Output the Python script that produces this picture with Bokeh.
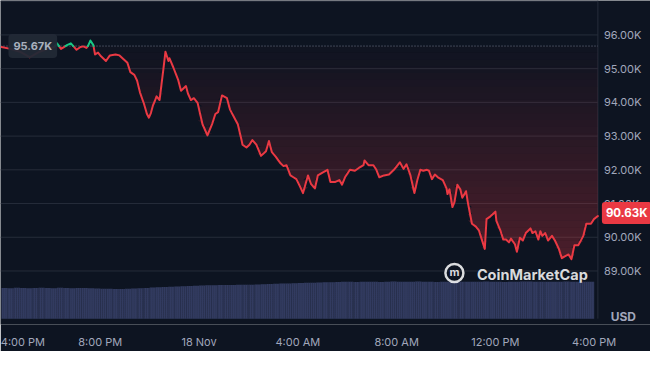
import numpy as np
from bokeh.plotting import figure
from bokeh.models import Range1d, FixedTicker, Label
from bokeh.core.properties import value
from bokeh.embed import file_html
from bokeh.resources import INLINE

# ---- data (hours after 4:00 PM, 17 Nov; BTC price in USD) ----
hours = [0.00,0.36,0.75,1.15,1.54,1.86,2.13,2.25,2.41,2.53,
         2.65,2.81,2.92,3.04,3.20,3.32,3.44,3.52,3.60,3.72,
         3.79,3.91,4.03,4.23,4.39,4.62,4.78,4.90,5.10,5.22,
         5.38,5.49,5.61,5.77,5.89,5.97,6.05,6.13,6.21,6.28,
         6.40,6.56,6.64,6.76,6.80,6.96,7.15,7.27,7.47,7.55,
         7.67,7.79,7.94,8.14,8.34,8.54,8.66,8.77,8.93,9.13,
         9.25,9.45,9.57,9.72,9.76,9.92,10.04,10.16,10.32,10.51,
         10.71,10.83,10.95,11.11,11.30,11.42,11.54,11.70,11.82,11.94,
         12.09,12.21,12.41,12.53,12.69,12.81,13.00,13.20,13.32,13.52,
         13.68,13.79,13.91,14.11,14.31,14.47,14.66,14.70,14.86,15.06,
         15.18,15.30,15.49,15.69,15.89,16.13,16.28,16.40,16.56,16.72,
         16.84,16.96,17.08,17.23,17.31,17.43,17.55,17.67,17.87,18.02,
         18.06,18.14,18.26,18.34,18.46,18.58,18.66,18.81,18.89,19.05,
         19.21,19.33,19.45,19.57,19.64,19.80,20.00,20.04,20.20,20.32,
         20.43,20.55,20.63,20.79,20.87,20.99,21.11,21.23,21.42,21.50,
         21.62,21.74,21.82,21.90,22.02,22.13,22.29,22.41,22.57,22.69,
         22.81,22.96,23.08,23.20,23.36,23.56,23.68,23.87,23.99,24.15]

prices = [95641,95586,95503,95338,95503,95586,95641,95752,95586,95641,
          95697,95752,95660,95559,95641,95660,95614,95697,95834,95697,
          95421,95476,95366,95228,95393,95421,95393,95310,95172,94897,
          94814,94648,94290,93959,93655,93545,93683,93903,94041,94179,
          94069,95007,95503,95228,95310,95034,94676,94345,94483,94262,
          94069,94124,93986,93352,93021,93379,93655,93710,94207,94124,
          93793,93517,93352,92883,92745,92662,92745,92883,92745,92414,
          92552,92855,92524,92386,92193,92110,92138,91834,91779,91724,
          91503,91310,91834,91586,91448,91834,91917,92000,91641,91641,
          91697,91559,91779,92000,91972,92055,92138,92276,92138,92138,
          92000,91779,91834,91862,92000,92221,92028,92166,91834,91310,
          91697,92000,91972,92000,91972,91724,91862,91779,91697,91448,
          91283,91421,90897,91035,91559,91421,91172,91366,91007,90400,
          90317,90207,89931,89655,90538,90621,90759,90483,90207,89931,
          89931,89848,89959,89793,89572,89986,89903,90124,90262,90124,
          90179,89931,90179,90041,90124,89903,90041,89903,89655,89379,
          89434,89490,89352,89766,89766,90041,90400,90400,90538,90630]

# 24h rolling volume (billion USD), one value per 15-minute bar
volume_b = [69.2,68.8,69.5,69.0,68.6,69.3,69.8,69.1,68.7,69.4,69.0,68.5,68.9,69.2,68.4,67.9,
            67.5,67.2,66.8,67.0,67.4,67.9,68.5,69.3,
            70.0,70.8,71.5,72.0,72.6,73.1,73.8,74.4,
            74.8,75.0,75.3,75.9,75.6,76.0,76.4,76.2,76.6,77.1,
            77.6,78.0,78.5,79.0,79.4,79.8,80.3,80.7,81.0,81.4,81.8,
            82.2,82.6,82.9,83.1,82.8,83.2,83.4,83.0,82.7,83.3,83.5,83.1,82.9,83.2,83.6,
            83.4,83.0,82.8,83.1,83.3,83.5,83.2,82.9,83.0,83.4,83.6,83.3,83.1,82.8,83.0,
            83.2,83.5,83.7,83.4,83.1,82.9,83.2,83.4,83.6,83.3,83.0,83.2,83.4]
bar_start_h = 0.0
bar_step_h = 0.25

open_price = 95670
last_price = 90630
open_label = "95.67K"
last_label = "90.63K"

y_ticks = [89000, 90000, 91000, 92000, 93000, 94000, 95000, 96000]
y_tick_labels = ["89.00K", "90.00K", "91.00K", "92.00K", "93.00K", "94.00K", "95.00K", "96.00K"]
grid_levels = [89000, 90000, 91000, 92000, 93000, 94000, 95000, 96000, 97000]
x_ticks = [0.87, 4, 8, 12, 16, 20, 24]   # first label is nudged right to fit, as in the original
x_tick_labels = ["4:00 PM", "8:00 PM", "18 Nov", "4:00 AM", "8:00 AM", "12:00 PM", "4:00 PM"]
currency = "USD"
brand = "CoinMarketCap"

# ---- style ----
BG = "#0d1421"
RED = "#ea3943"
GREEN = "#16c784"
GRID = "#262d3a"
LABEL = "#a1a7bb"
FONT = "Inter"

n = min(len(hours), len(prices))
hx = np.array(hours[:n], dtype=float)
py = np.array(prices[:n], dtype=float)

X0, X1 = -0.0395, 26.28          # full canvas width; data ends at hours[-1]
Y0, Y1 = 87413, 97021
PLOT_BOTTOM = 87586              # bottom of the price/volume panel
X_END = hx[-1]

p = figure(width=650, height=351, x_range=Range1d(X0, X1), y_range=Range1d(Y0, Y1),
           y_axis_location=None, toolbar_location=None, output_backend="svg",
           background_fill_color=BG, border_fill_color=BG, outline_line_color=None,
           min_border_left=0, min_border_top=0, min_border_right=0, min_border_bottom=18)

p.extra_y_ranges = {"vol": Range1d(-13.15, 716.8)}

p.xgrid.grid_line_color = None
p.ygrid.grid_line_color = None

p.xaxis.ticker = FixedTicker(ticks=x_ticks)
p.xaxis.major_label_overrides = {t: l for t, l in zip(x_ticks, x_tick_labels)}
p.xaxis.major_tick_line_color = None
p.xaxis.minor_tick_line_color = None
p.xaxis.axis_line_color = None
p.xaxis.major_label_text_color = LABEL
p.xaxis.major_label_text_font = FONT
p.xaxis.major_label_text_font_size = "11px"
p.xaxis.major_label_standoff = 4

# grid lines limited to the chart area, and the right border
p.segment(x0=[X0] * len(grid_levels), x1=[X_END] * len(grid_levels), y0=grid_levels, y1=grid_levels,
          line_color=GRID, line_width=1)
p.segment(x0=[X_END], x1=[X_END], y0=[PLOT_BOTTOM], y1=[Y1], line_color=GRID, line_width=1)

# volume bars
bar_x = bar_start_h + bar_step_h * (np.arange(len(volume_b)) + 0.5)
bar_x = np.minimum(bar_x, X_END - bar_step_h / 2)
p.vbar(x=bar_x, top=volume_b, bottom=0, width=bar_step_h, y_range_name="vol",
       fill_color="#323b60", line_color=None,
       hatch_pattern="vertical_line", hatch_color="#222942", hatch_scale=2.1, hatch_weight=0.8)

# gradient fill between the price line and the opening price
low_edge = 89300
edges = np.linspace(low_edge, open_price, 33)
nb = len(edges) - 1
for k in range(nb):
    a, b = edges[k], edges[k + 1]
    alpha = 0.28 * (1 - (k + 0.5) / nb) + 0.01
    p.varea(x=hx, y1=np.clip(py, a, b), y2=np.full(n, b), fill_color=RED, fill_alpha=alpha)

# opening price dotted line
p.line(x=[X0, X_END], y=[open_price, open_price], line_color="#8b93a6",
       line_alpha=0.8, line_width=1, line_dash="1 2")

# price line split above/below opening price
pieces = []
cur, cx, cy = None, [], []
for i in range(n - 1):
    x0, y0, x1, y1 = hx[i], py[i], hx[i + 1], py[i + 1]
    if (y0 - open_price) * (y1 - open_price) < 0:
        xc = x0 + (open_price - y0) * (x1 - x0) / (y1 - y0)
        parts = [((x0, y0), (xc, open_price)), ((xc, open_price), (x1, y1))]
    else:
        parts = [((x0, y0), (x1, y1))]
    for (pa, pb) in parts:
        col = "g" if (pa[1] + pb[1]) / 2 > open_price else "r"
        if col != cur:
            if cur is not None:
                pieces.append((cur, cx, cy))
            cur, cx, cy = col, [pa[0]], [pa[1]]
        cx.append(pb[0])
        cy.append(pb[1])
pieces.append((cur, cx, cy))

rx = [pc[1] for pc in pieces if pc[0] == "r"]
ry = [pc[2] for pc in pieces if pc[0] == "r"]
gx = [pc[1] for pc in pieces if pc[0] == "g"]
gy = [pc[2] for pc in pieces if pc[0] == "g"]
p.multi_line(xs=rx, ys=ry, line_color=RED, line_width=2, line_join="round", line_cap="round")
p.multi_line(xs=gx, ys=gy, line_color=GREEN, line_width=2, line_join="round", line_cap="round")

# price scale labels, right of the chart area
p.text(x=[X_END] * len(y_ticks), y=y_ticks, text=y_tick_labels, x_offset=6,
       text_align="left", text_baseline="middle", text_color=LABEL,
       text_font=value(FONT), text_font_size="11px")

# watermark
logo_h, logo_y = 18.34, 88938
p.scatter(x=[logo_h], y=[logo_y], size=18, marker="circle", fill_alpha=0,
          line_color="white", line_alpha=0.85, line_width=2.5)
p.add_layout(Label(x=logo_h, y=logo_y, text="m", text_align="center", text_baseline="middle",
                   text_color="white", text_alpha=0.85, text_font=FONT, text_font_style="bold",
                   text_font_size="11px", y_offset=1))
p.add_layout(Label(x=19.25, y=88883, text=brand, text_align="left", text_baseline="middle",
                   text_color="white", text_alpha=0.85, text_font=FONT, text_font_style="bold",
                   text_font_size="14.5px"))

# badges
p.add_layout(Label(x=0.08, y=open_price, text=open_label, text_align="left", text_baseline="middle",
                   text_color="#a9b0bd", text_font=FONT, text_font_style="bold", text_font_size="11px",
                   background_fill_color="#222936", background_fill_alpha=0.95,
                   padding=5, border_radius=4, x_offset=5))
p.add_layout(Label(x=X_END, y=last_price, text=last_label, text_align="left", text_baseline="middle",
                   text_color="white", text_font=FONT, text_font_style="bold", text_font_size="11.5px",
                   background_fill_color=RED, padding=4, border_radius=3, x_offset=4, y_offset=3))

# currency label
p.add_layout(Label(x=25.18, y=87669, text=currency, text_align="center", text_baseline="middle",
                   text_color=LABEL, text_font=FONT, text_font_style="bold", text_font_size="12px",
                   y_offset=-1))

open("out.html", "w").write(file_html(p, INLINE))
